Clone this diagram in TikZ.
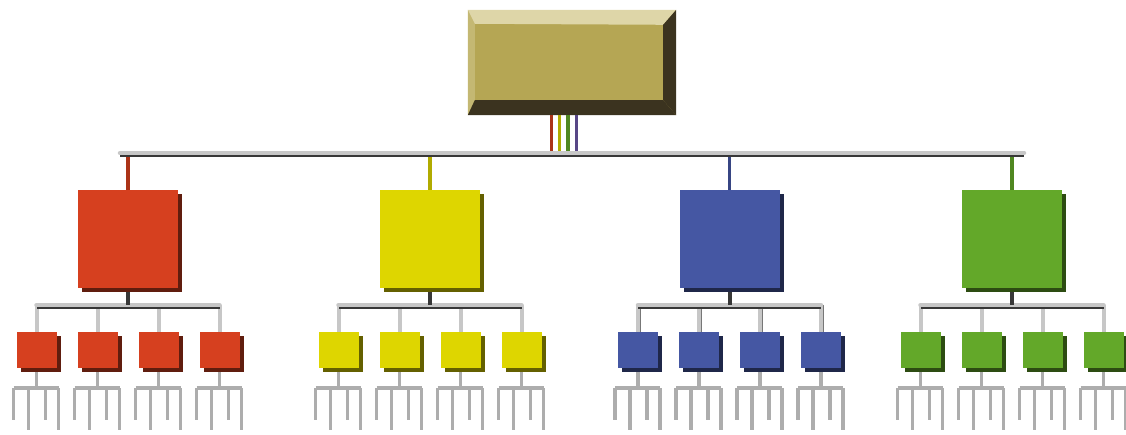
\documentclass[tikz,border=0pt]{standalone}
\usetikzlibrary{calc,shadows}
\definecolor{HeadClr}{rgb}{0.71,0.65,0.33}
\definecolor{HeadLight}{rgb}{0.87,0.84,0.66}
\definecolor{HeadSide}{rgb}{0.77,0.72,0.45}
\definecolor{HeadDark}{rgb}{0.23,0.20,0.12}
\definecolor{RedClr}{rgb}{0.84,0.25,0.12}
\definecolor{YellowClr}{rgb}{0.87,0.84,0}
\definecolor{BlueClr}{rgb}{0.27,0.34,0.64}
\definecolor{GreenClr}{rgb}{0.39,0.66,0.16}
\definecolor{PurpleClr}{rgb}{0.43,0.35,0.66}
\definecolor{PipeClr}{rgb}{0.78,0.78,0.78}
\definecolor{PipeDark}{rgb}{0.22,0.22,0.22}
\definecolor{RakeClr}{rgb}{0.68,0.68,0.68}

\begin{document}
\begin{tikzpicture}[x=1pt,y=1pt,
  box/.style={fill=#1,inner sep=0pt,minimum width=100pt,minimum height=98pt,
    general shadow={fill=#1!45!black,shadow xshift=4pt,shadow yshift=-4pt}},
  leaf/.style={box=#1,minimum width=40pt,minimum height=36pt},
  wire/.style={line width=3.4pt,draw=#1!80!black},
  pipe/.style={line width=4.5pt,draw=PipeClr,line cap=round,
    preaction={draw=PipeDark,line width=3.5pt,transform canvas={yshift=-2pt}}},
  vpipe/.style={line width=4pt,draw=PipeClr,
    preaction={draw=PipeClr!60!black,line width=3.5pt,transform canvas={xshift=1.2pt}}},
  rake/.style={line width=3.4pt,draw=RakeClr}]
\useasboundingbox (0,0) rectangle (1126,435);

% head box with bevelled edges
\node[fill=HeadClr,inner sep=0pt,minimum width=208pt,minimum height=105pt] (top) at (572,372.5) {};
\fill[HeadSide] (top.north west) -- (top.south west) -- ++(7,15) -- ($(top.north west)+(7,-14)$) -- cycle;
\fill[HeadLight] (top.north west) -- (top.north east) -- ++(-13,-15) -- ($(top.north west)+(7,-14)$) -- cycle;
\fill[HeadDark] (top.north east) -- (top.south east) -- ++(-13,15) -- ($(top.north east)+(-13,-15)$) -- cycle;
\fill[HeadDark] (top.south west) -- (top.south east) -- ++(-13,15) -- ($(top.south west)+(7,15)$) -- cycle;

\coordinate (busL) at (120,282);
\coordinate (busR) at (1024,282);

\foreach \clr [count=\i] in {RedClr,YellowClr,GreenClr,PurpleClr}
  \draw[wire=\clr] ($(top.south)+(\i*8.3-29,0)$) -- ++(0,-36);

% second level and its leaves
\foreach \clr/\x [count=\i] in {RedClr/128,YellowClr/430,BlueClr/729.5,GreenClr/1012}{
  \node[box=\clr] (m\i) at (\x,196) {};
  \coordinate (j\i) at ($(m\i.south)+(0,-17)$);
  \draw[wire=\clr] (m\i.north) -- (m\i.north |- busL);
  \foreach \dx [count=\k] in {-91.5,-30.5,30.5,91.5}{
    \node[leaf=\clr] (s\i\k) at ($(m\i.center)+(\dx,-111)$) {};
    \coordinate (r\i\k) at ($(s\i\k.south)+(0,-20)$);
    \draw[vpipe] (s\i\k.north) -- (s\i\k.north |- j\i);
    \draw[rake] ([yshift=-4pt]s\i\k.south) -- (r\i\k);
    \draw[rake] ([xshift=-23pt]r\i\k) -- ([xshift=22pt]r\i\k);
    \foreach \tx/\ty in {-23/32,-8/42,9/32,22/42}
      \draw[rake] ([xshift=\tx pt]r\i\k) -- ++(0,-\ty);
  }
  \draw[pipe] (s\i1.north |- j\i) -- (s\i4.north |- j\i);
  \draw[line width=4pt,PipeDark] ([yshift=-4pt]m\i.south) -- (j\i);
}

\draw[pipe] (busL) -- (busR);

\end{tikzpicture}
\end{document}
